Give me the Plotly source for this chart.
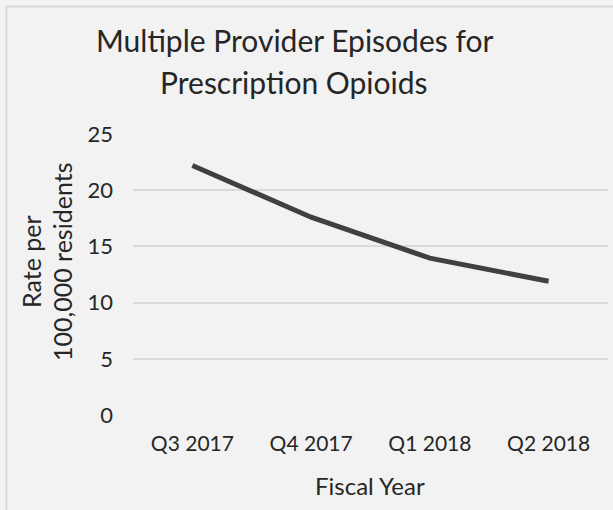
import plotly.graph_objects as go

quarters = ["Q3 2017", "Q4 2017", "Q1 2018", "Q2 2018"]
rates = [22.2, 17.6, 13.95, 11.9]
y_ticks = [0, 5, 10, 15, 20, 25]

title_lines = ["Multiple Provider Episodes for", "Prescription Opioids"]
x_title = "Fiscal Year"
y_title_lines = ["Rate per", "100,000 residents"]

W, H = 613, 510
L, R, T, B = 133, 5, 134, 95
FONT = "Lato"
TXT = "#262626"

def px(xp):
    return (xp - L) / (W - L - R)

def py(yp):
    return (H - B - yp) / (H - T - B)

fig = go.Figure()
fig.add_trace(go.Scatter(
    x=quarters, y=rates, mode="lines",
    line=dict(color="#404040", width=5),
    hoverinfo="skip", showlegend=False,
))

annotations = []
for text, yc in zip(title_lines, [40, 82]):
    annotations.append(dict(text=text, x=px(294), y=py(yc), xref="paper", yref="paper",
                            xanchor="center", yanchor="middle", showarrow=False,
                            font=dict(family=FONT, size=30, color=TXT)))
for text, xc in zip(y_title_lines, [31, 62]):
    annotations.append(dict(text=text, x=px(xc), y=py(262), xref="paper", yref="paper",
                            xanchor="center", yanchor="middle", showarrow=False, textangle=-90,
                            font=dict(family=FONT, size=25, color=TXT)))
annotations.append(dict(text=x_title, x=px(370), y=py(485), xref="paper", yref="paper",
                        xanchor="center", yanchor="middle", showarrow=False,
                        font=dict(family=FONT, size=24, color=TXT)))

fig.update_layout(
    width=W, height=H,
    margin=dict(l=L, r=R, t=T, b=B),
    paper_bgcolor="#f2f2f2", plot_bgcolor="#f2f2f2",
    font=dict(family=FONT, size=20, color=TXT),
    annotations=annotations,
    shapes=[
        dict(type="line", xref="paper", yref="paper", x0=px(6), x1=px(W), y0=py(6.5), y1=py(6.5),
             line=dict(color="#d9d9d9", width=2)),
        dict(type="line", xref="paper", yref="paper", x0=px(6.5), x1=px(6.5), y0=py(6), y1=py(H),
             line=dict(color="#d9d9d9", width=2)),
    ],
    xaxis=dict(type="category", range=[-0.5, 3.5], showgrid=False, showline=False,
               zeroline=False, ticks="", ticklabelstandoff=14,
               tickfont=dict(family=FONT, size=21, color=TXT)),
    yaxis=dict(range=[0, 25], tickvals=y_ticks, showgrid=True, gridcolor="#d9d9d9",
               gridwidth=1.5, zeroline=False, showline=False, ticks="",
               ticklabelstandoff=19, tickfont=dict(family=FONT, size=22, color=TXT)),
)

fig.write_html("out.html")
